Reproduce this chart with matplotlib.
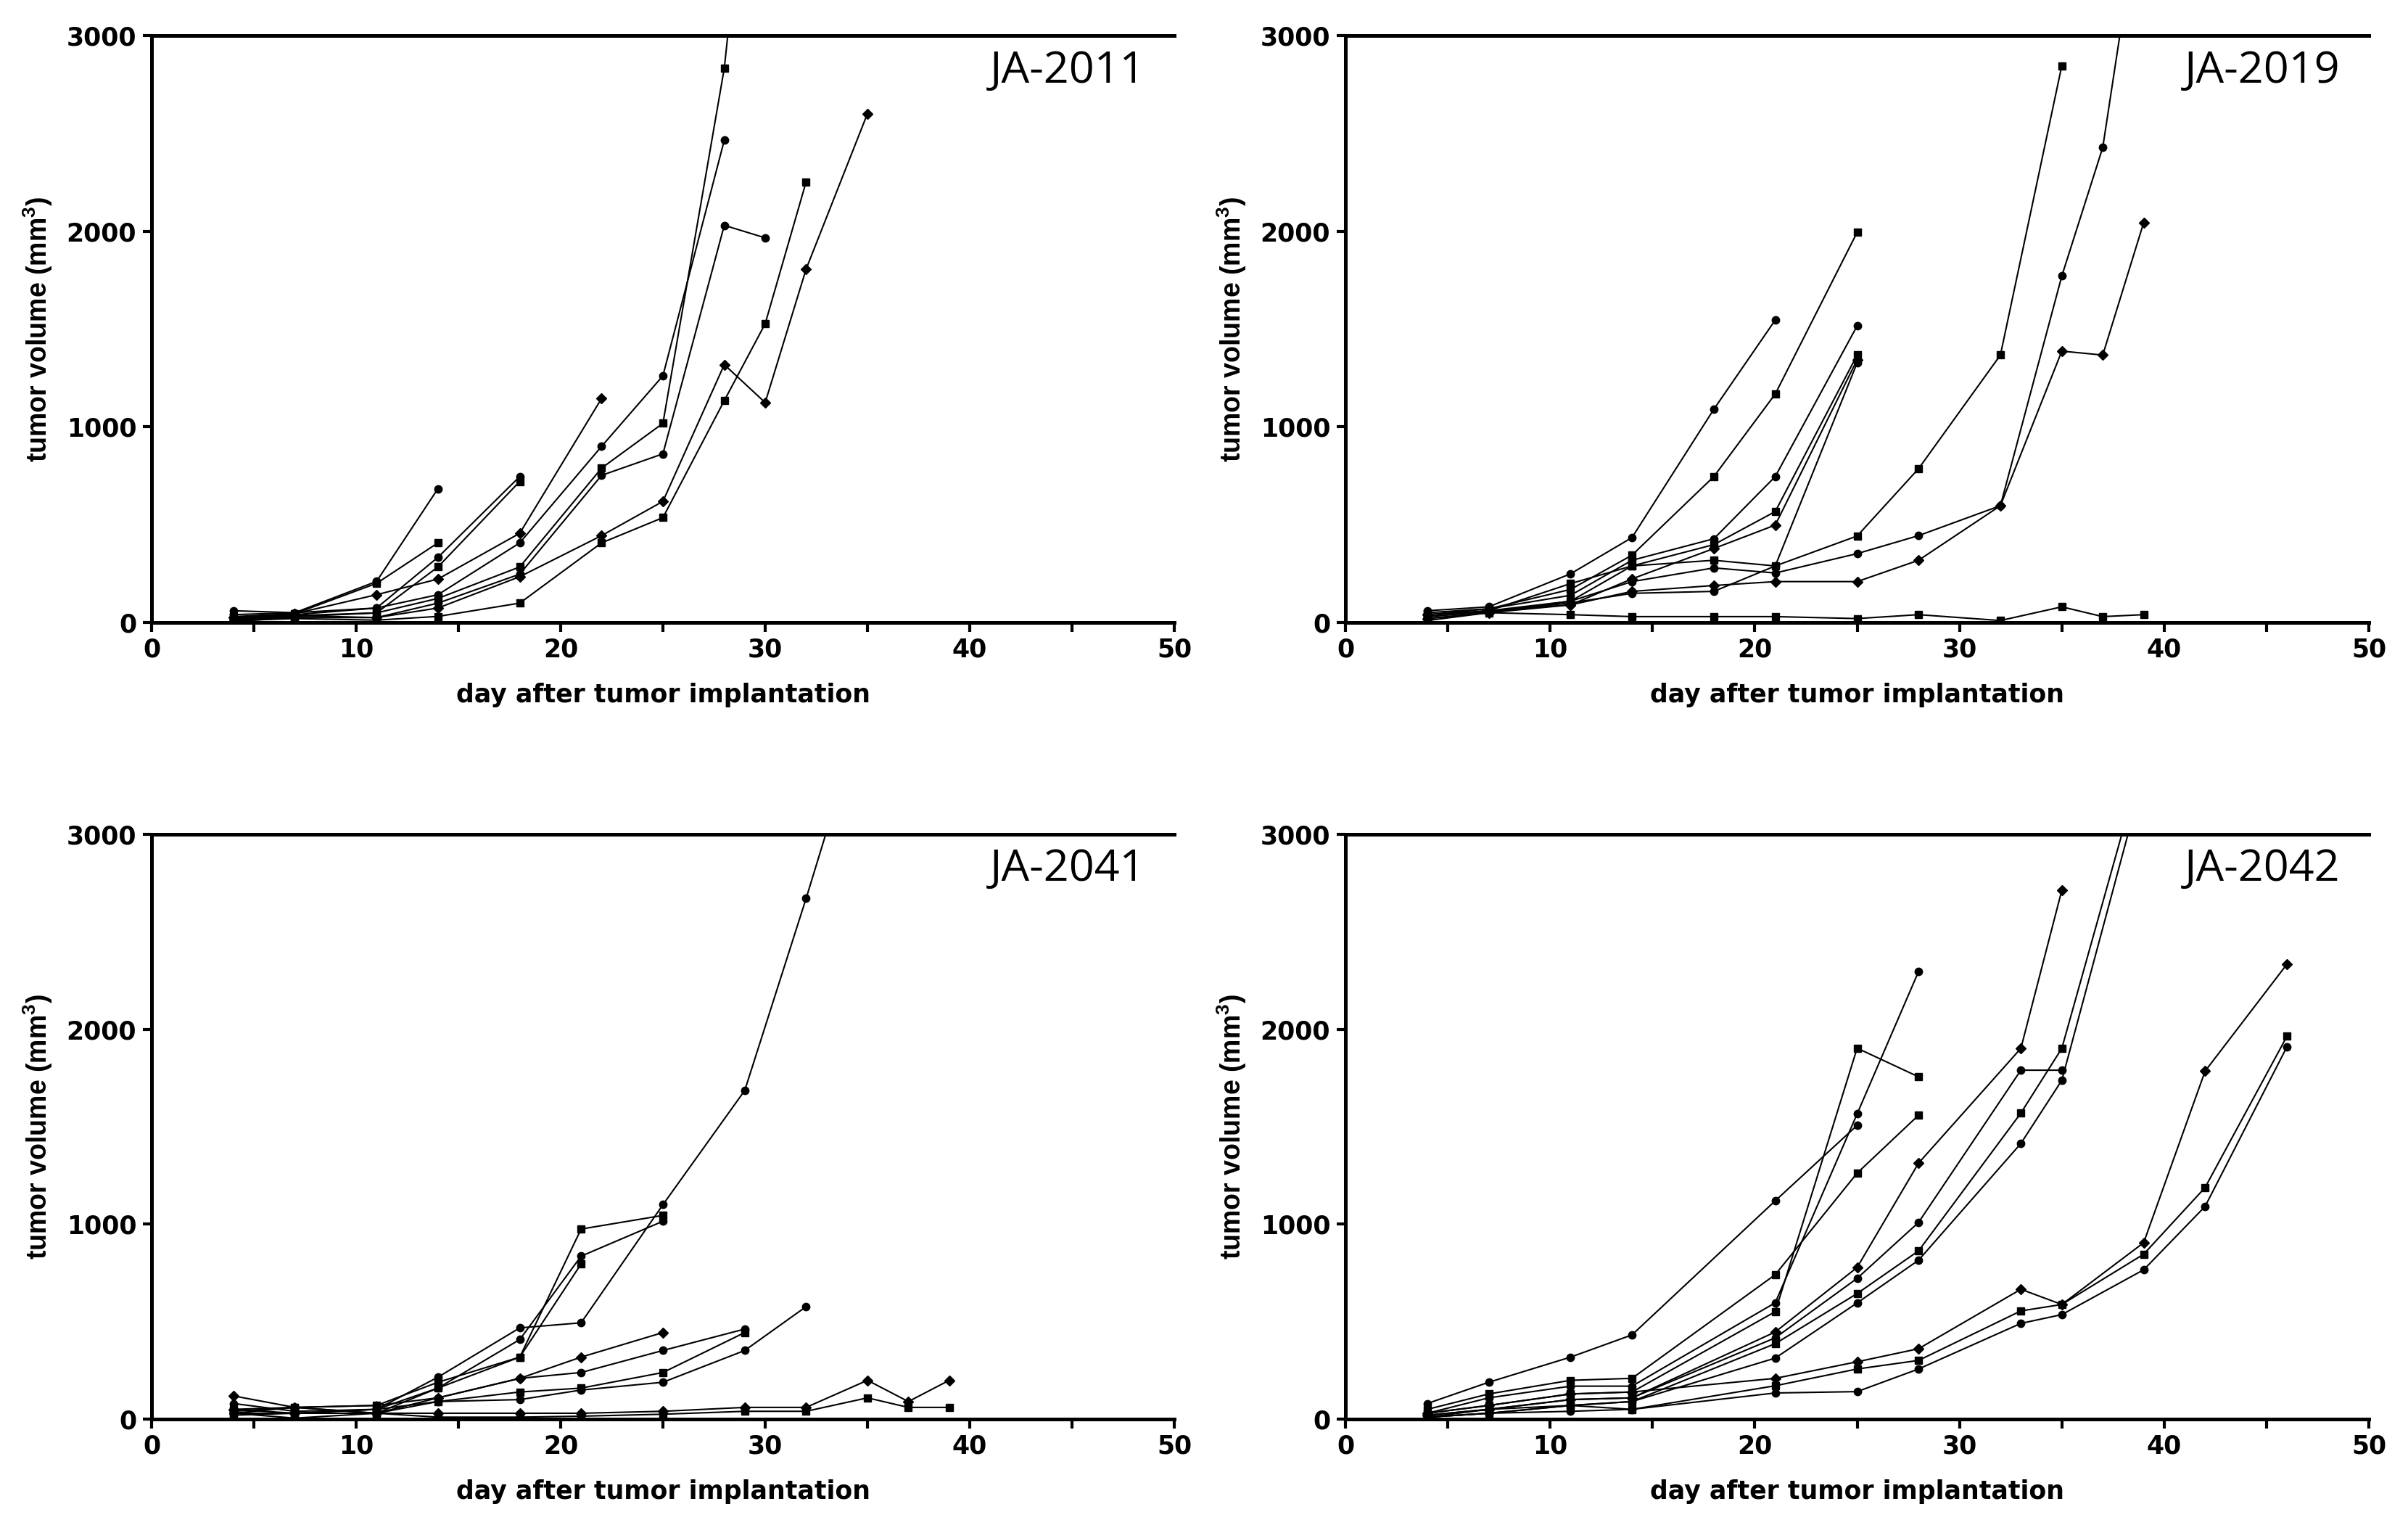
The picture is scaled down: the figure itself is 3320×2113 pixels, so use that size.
import matplotlib
matplotlib.use("Agg")
import matplotlib.pyplot as plt
from matplotlib.ticker import MultipleLocator

# ---------------- data ----------------
ja2011_days = [
    [4, 7, 11, 14],
    [4, 7, 11, 14],
    [4, 7, 11, 14, 18],
    [4, 7, 11, 14, 18],
    [4, 7, 11, 14, 18, 22],
    [4, 7, 11, 14, 18, 22, 25, 28],
    [4, 7, 11, 14, 18, 22, 25, 28, 30],
    [4, 7, 11, 14, 18, 22, 25, 28, 30],
    [4, 7, 11, 14, 18, 22, 25, 28, 30, 32, 35],
    [4, 7, 11, 14, 18, 22, 25, 28, 30, 32],
]
ja2011_vols = [
    [40, 50, 210, 684],
    [30, 45, 200, 407],
    [20, 40, 74, 333, 746],
    [15, 35, 49, 284, 721],
    [25, 45, 142, 222, 456, 1145],
    [60, 50, 74, 142, 407, 900, 1261, 2465],
    [10, 30, 49, 123, 284, 789, 1018, 2833, 4800],
    [20, 35, 25, 99, 247, 752, 862, 2030, 1966],
    [5, 25, 25, 74, 234, 444, 619, 1318, 1124, 1806, 2601],
    [10, 20, 12, 31, 99, 407, 536, 1134, 1527, 2252],
]

ja2019_days = [
    [4, 7, 11, 14, 18, 21],
    [4, 7, 11, 14, 18, 21, 25],
    [4, 7, 11, 14, 18, 21, 25],
    [4, 7, 11, 14, 18, 21, 25],
    [4, 7, 11, 14, 18, 21, 25],
    [4, 7, 11, 14, 18, 21, 25],
    [4, 7, 11, 14, 18, 21, 25, 28, 32, 35],
    [4, 7, 11, 14, 18, 21, 25, 28, 32, 35, 37, 39],
    [4, 7, 11, 14, 18, 21, 25, 28, 32, 35, 37, 39],
    [4, 7, 11, 14, 18, 21, 25, 28, 32, 35, 37, 39],
]
ja2019_vols = [
    [60, 80, 249, 434, 1090, 1546],
    [50, 70, 169, 344, 746, 1168, 1994],
    [40, 70, 139, 318, 428, 746, 1516],
    [30, 60, 109, 289, 398, 567, 1367],
    [20, 50, 90, 223, 378, 498, 1343],
    [30, 55, 100, 149, 159, 289, 1327],
    [30, 60, 199, 289, 318, 289, 442, 786, 1367, 2846],
    [20, 50, 109, 209, 279, 253, 352, 444, 597, 1771, 2428, 3800],
    [40, 60, 90, 159, 189, 209, 209, 318, 597, 1387, 1367, 2044],
    [10, 50, 40, 30, 30, 30, 20, 40, 10, 80, 30, 40],
]

ja2041_days = [
    [4, 7, 11, 14, 18, 21, 25, 29, 32, 35],
    [4, 7, 11, 14, 18, 21, 25],
    [4, 7, 11, 14, 18, 21, 25],
    [4, 7, 11, 14, 18, 21],
    [4, 7, 11, 14, 18, 21, 25],
    [4, 7, 11, 14, 18, 21, 25, 29],
    [4, 7, 11, 14, 18, 21, 25, 29],
    [4, 7, 11, 14, 18, 21, 25, 29, 32],
    [4, 7, 11, 14, 18, 21, 25, 29, 32, 35, 37, 39],
    [4, 7, 11, 14, 18, 21, 25, 29, 32, 35, 37, 39],
]
ja2041_vols = [
    [80, 40, 50, 215, 468, 494, 1100, 1686, 2671, 3700],
    [50, 60, 70, 189, 318, 975, 1045],
    [30, 30, 50, 159, 408, 836, 1015],
    [40, 60, 30, 159, 318, 796],
    [50, 30, 30, 109, 209, 318, 444],
    [30, 60, 70, 109, 209, 239, 352, 462],
    [20, 30, 50, 90, 139, 159, 239, 444],
    [30, 30, 30, 90, 100, 149, 189, 352, 577],
    [119, 60, 30, 30, 30, 30, 40, 60, 60, 199, 90, 199],
    [30, 5, 30, 10, 10, 15, 25, 40, 40, 109, 60, 60],
]

ja2042_days = [
    [4, 7, 11, 14, 21, 25],
    [4, 7, 11, 14, 21, 25, 28],
    [4, 7, 11, 14, 21, 25, 28],
    [4, 7, 11, 14, 21, 25, 28],
    [4, 7, 11, 14, 21, 25, 28, 33, 35],
    [4, 7, 11, 14, 21, 25, 28, 33, 35],
    [4, 7, 11, 14, 21, 25, 28, 33, 35, 39],
    [4, 7, 11, 14, 21, 25, 28, 33, 35, 39],
    [4, 7, 11, 14, 21, 25, 28, 33, 35, 39, 42, 46],
    [4, 7, 11, 14, 21, 25, 28, 33, 35, 39, 42, 46],
    [4, 7, 11, 14, 21, 25, 28, 33, 35, 39, 42, 46],
]
ja2042_vols = [
    [80, 189, 318, 432, 1120, 1507],
    [50, 129, 199, 209, 741, 1262, 1559],
    [30, 109, 169, 169, 597, 1566, 2296],
    [30, 70, 129, 139, 551, 1903, 1756],
    [20, 50, 100, 109, 447, 778, 1313, 1902, 2713],
    [20, 50, 100, 109, 417, 722, 1009, 1790, 1790],
    [10, 30, 70, 90, 387, 644, 863, 1570, 1902, 3400],
    [10, 30, 70, 90, 313, 596, 815, 1414, 1738, 3300],
    [30, 70, 129, 139, 209, 294, 361, 666, 588, 905, 1785, 2334],
    [10, 50, 70, 50, 171, 257, 301, 555, 588, 846, 1188, 1964],
    [10, 30, 40, 50, 134, 141, 257, 491, 536, 766, 1091, 1910],
]

panel_names = ["JA-2011", "JA-2019", "JA-2041", "JA-2042"]
x_ticks = [0, 10, 20, 30, 40, 50]
y_ticks = [0, 1000, 2000, 3000]
x_label = "day after tumor implantation"
y_label = "tumor volume (mm$^\\mathregular{3}$)"

# ---------------- figure ----------------
W, H = 3320, 2113
fig = plt.figure(figsize=(W / 100, H / 100), dpi=100)

tick_font = ["DejaVu Sans"]
label_font = ["Liberation Sans", "DejaVu Sans"]
name_font = ["Open Sans", "DejaVu Sans"]

def px_rect(left, top, right, bottom):
    return [left / W, 1 - bottom / H, (right - left) / W, (bottom - top) / H]

rects = [
    px_rect(209, 49, 1619, 858),
    px_rect(1855, 49, 3266, 858),
    px_rect(209, 1150, 1619, 1956),
    px_rect(1855, 1150, 3266, 1956),
]
all_days = [ja2011_days, ja2019_days, ja2041_days, ja2042_days]
all_vols = [ja2011_vols, ja2019_vols, ja2041_vols, ja2042_vols]
markers = ["o", "s", "o", "s", "D", "o", "s", "o", "D", "s", "o"]

for rect, days, vols, name in zip(rects, all_days, all_vols, panel_names):
    ax = fig.add_axes(rect)
    for i, (d, v) in enumerate(zip(days, vols)):
        ax.plot(d, v, color="black", lw=1.5, marker=markers[i % len(markers)],
                ms=7.5, mfc="black", mec="black", clip_on=True)
    ax.set_xlim(0, 50)
    ax.set_ylim(0, 3000)
    ax.set_xticks(x_ticks)
    ax.set_yticks(y_ticks)
    ax.xaxis.set_minor_locator(MultipleLocator(5))
    for s in ["left", "bottom", "top"]:
        ax.spines[s].set_linewidth(3.6)
        ax.spines[s].set_color("black")
    ax.spines["right"].set_visible(False)
    ax.tick_params(axis="both", which="major", direction="out", length=9,
                   width=3.0, pad=6)
    ax.tick_params(axis="x", which="minor", direction="out", length=9, width=3.0)
    ax.tick_params(top=False, right=False, which="both")
    for lab in ax.get_xticklabels() + ax.get_yticklabels():
        lab.set_fontfamily(tick_font)
        lab.set_fontweight("bold")
        lab.set_fontsize(25)
    ax.set_xlabel(x_label, fontsize=25, fontweight="bold",
                  fontfamily=tick_font, labelpad=20)
    ax.set_ylabel(y_label, fontsize=27, fontweight="bold",
                  fontfamily=label_font, labelpad=12)
    ax.text(48.6, 2820, name, ha="right", va="center", fontsize=44,
            fontfamily=name_font, color="black")

fig.savefig("out.png", dpi=100, facecolor="white")
